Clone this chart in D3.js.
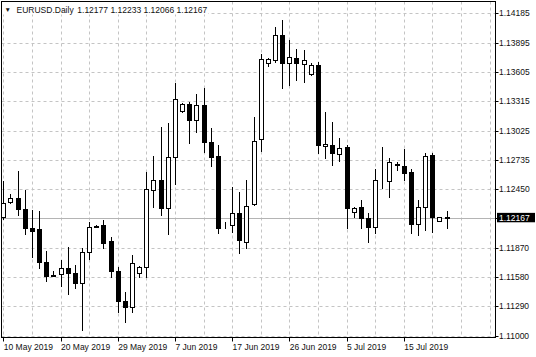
<!DOCTYPE html>
<html>
<head>
<meta charset="utf-8">
<script src="https://d3js.org/d3.v7.min.js"></script>
<style>
  body { margin: 0; background: #fff; }
  svg { display: block; font-family: "Liberation Sans", Arial, sans-serif; }
  .grid line { stroke: #c4c4c4; stroke-width: 1; stroke-dasharray: 3,3; }
</style>
</head>
<body>
<svg width="536" height="357"></svg>
<script>
// EURUSD daily bars, 10 May - 22 Jul 2019 (broker feed with Sunday bars)
const opens = [1.12176, 1.12324, 1.12357, 1.12249, 1.12067, 1.12051, 1.11731, 1.11597, 1.11607, 1.11672,
  1.11617, 1.11518, 1.11824, 1.12085, 1.12094, 1.11936, 1.11642, 1.11343, 1.11281, 1.11622,
  1.11676, 1.12440, 1.12538, 1.12259, 1.12763, 1.13220, 1.13289, 1.13131, 1.13279, 1.12917,
  1.12775, 1.12090, 1.12094, 1.12209, 1.11929, 1.12298, 1.12943, 1.13697, 1.13724, 1.13971,
  1.13691, 1.13741, 1.13684, 1.13586, 1.13675, 1.12874, 1.12884, 1.12795, 1.12867, 1.12225,
  1.12275, 1.12160, 1.12071, 1.12538, 1.12531, 1.12693, 1.12677, 1.12614, 1.12101, 1.12275,
  1.12785, 1.12136, 1.12177];
const highs = [1.12531, 1.12400, 1.12630, 1.12440, 1.12242, 1.12235, 1.11837, 1.11639, 1.11748, 1.11873,
  1.11699, 1.11869, 1.12126, 1.12095, 1.12143, 1.11978, 1.11682, 1.11429, 1.11797, 1.11689,
  1.12620, 1.12775, 1.13065, 1.13099, 1.13494, 1.13299, 1.13312, 1.13385, 1.13450, 1.13049,
  1.12884, 1.12126, 1.12472, 1.12423, 1.12538, 1.13164, 1.13780, 1.13741, 1.14047, 1.14119,
  1.13922, 1.13830, 1.13823, 1.13697, 1.13707, 1.13213, 1.13114, 1.12950, 1.12884, 1.12270,
  1.12341, 1.12209, 1.12644, 1.12867, 1.12753, 1.12719, 1.12845, 1.12644, 1.12341, 1.12808,
  1.12808, 1.12175, 1.12233];
const lows = [1.12150, 1.12308, 1.12193, 1.12005, 1.11775, 1.11666, 1.11543, 1.11585, 1.11494, 1.11409,
  1.11474, 1.11056, 1.11758, 1.12070, 1.11864, 1.11583, 1.11237, 1.11138, 1.11231, 1.11583,
  1.11583, 1.12269, 1.12193, 1.12005, 1.12499, 1.13210, 1.12901, 1.13016, 1.12818, 1.12677,
  1.12018, 1.12061, 1.12028, 1.11814, 1.11864, 1.12291, 1.12825, 1.13665, 1.13707, 1.13444,
  1.13477, 1.13526, 1.13504, 1.13576, 1.12802, 1.12753, 1.12686, 1.12729, 1.12061, 1.12176,
  1.12061, 1.11929, 1.12012, 1.12456, 1.12373, 1.12637, 1.12538, 1.12012, 1.11995, 1.12044,
  1.12028, 1.12130, 1.12066];
const closes = [1.12314, 1.12357, 1.12249, 1.12061, 1.12037, 1.11731, 1.11593, 1.11593, 1.11672, 1.11617,
  1.11518, 1.11830, 1.12071, 1.12075, 1.11919, 1.11642, 1.11346, 1.11287, 1.11721, 1.11676,
  1.12446, 1.12538, 1.12259, 1.12763, 1.13336, 1.13289, 1.13131, 1.13279, 1.12917, 1.12769,
  1.12061, 1.12097, 1.12209, 1.11946, 1.12284, 1.12927, 1.13734, 1.13734, 1.13971, 1.13691,
  1.13751, 1.13691, 1.13724, 1.13675, 1.12884, 1.12891, 1.12802, 1.12851, 1.12259, 1.12265,
  1.12160, 1.12077, 1.12538, 1.12538, 1.12713, 1.12690, 1.12605, 1.12101, 1.12269, 1.12775,
  1.12176, 1.12170, 1.12167];

const priceTicks = [1.11000, 1.11290, 1.11580, 1.11870, 1.12160, 1.12450, 1.12735, 1.13025, 1.13315, 1.13605, 1.13895, 1.14185];
const dateTickBars = [0, 8, 16, 24, 32, 40, 48, 56];
const dateTickLabels = ["10 May 2019", "20 May 2019", "29 May 2019", "7 Jun 2019", "17 Jun 2019", "26 Jun 2019", "5 Jul 2019", "15 Jul 2019"];
const symbolName = "EURUSD.Daily";
const bidPrice = 1.12167;

const svg = d3.select("svg");
const plotL = 1.5, plotR = 495.5, plotT = 1.5, plotB = 337.5;

// bar index -> x (room for 68 bar slots, chart shifted a few bars from the edge)
const x = d3.scaleLinear().domain([0, 68]).range([3.3, 489.5]);
const y = d3.scaleLinear().domain([1.11, 1.14185]).range([335.7, 13.3]);
const px = v => Math.round(v) + 0.5;

svg.append("defs").append("clipPath").attr("id", "plot")
  .append("rect").attr("x", plotL + 0.5).attr("y", plotT + 0.5)
  .attr("width", plotR - plotL - 1).attr("height", plotB - plotT - 1);

// grid
const grid = svg.append("g").attr("class", "grid").attr("clip-path", "url(#plot)");
grid.selectAll(".h").data(priceTicks).enter().append("line")
  .attr("x1", plotL).attr("x2", plotR)
  .attr("y1", d => px(y(d))).attr("y2", d => px(y(d)));
grid.selectAll(".v").data(d3.range(0, 69, 4)).enter().append("line")
  .attr("y1", plotT).attr("y2", plotB)
  .attr("x1", d => px(x(d))).attr("x2", d => px(x(d)));

// bid line
svg.append("line")
  .attr("x1", plotL).attr("x2", plotR)
  .attr("y1", px(y(bidPrice))).attr("y2", px(y(bidPrice)))
  .attr("stroke", "#b4b4b4");

// candles
const bars = opens.map((o, i) => ({ i: i, o: o, h: highs[i], l: lows[i], c: closes[i] }));
const cg = svg.append("g").attr("clip-path", "url(#plot)");
const candle = cg.selectAll("g").data(bars).enter().append("g");
candle.append("line")
  .attr("x1", d => px(x(d.i))).attr("x2", d => px(x(d.i)))
  .attr("y1", d => Math.round(y(d.h))).attr("y2", d => Math.round(y(d.l)) + 1)
  .attr("stroke", "#000");
candle.append("rect")
  .attr("x", d => px(x(d.i)) - 2)
  .attr("width", 4)
  .attr("y", d => px(y(Math.max(d.o, d.c))))
  .attr("height", d => Math.max(0, px(y(Math.min(d.o, d.c))) - px(y(Math.max(d.o, d.c)))))
  .attr("fill", d => d.c >= d.o ? "#fff" : "#000")
  .attr("stroke", "#000");

// frame
svg.append("rect")
  .attr("x", plotL).attr("y", plotT)
  .attr("width", plotR - plotL).attr("height", plotB - plotT)
  .attr("fill", "none").attr("stroke", "#000");

// price axis
const pa = svg.append("g").style("font-size", "8.5px").attr("fill", "#111");
pa.selectAll("line").data(priceTicks).enter().append("line")
  .attr("x1", plotR).attr("x2", plotR + 3)
  .attr("y1", d => px(y(d))).attr("y2", d => px(y(d)))
  .attr("stroke", "#000");
pa.selectAll("text").data(priceTicks.filter(d => Math.abs(y(d) - y(bidPrice)) > 6)).enter().append("text")
  .attr("x", 499).attr("y", d => y(d) + 3)
  .text(d => d.toFixed(5));

const yb = y(bidPrice);
svg.append("rect").attr("x", 497).attr("y", yb - 4.7).attr("width", 38).attr("height", 9.4).attr("fill", "#000");
svg.append("text").attr("x", 499).attr("y", yb + 3).attr("fill", "#fff")
  .style("font-size", "8.5px").text(bidPrice.toFixed(5));

// time axis
const ta = svg.append("g").style("font-size", "8.5px").attr("fill", "#111");
ta.selectAll("line").data(dateTickBars).enter().append("line")
  .attr("x1", d => px(x(d))).attr("x2", d => px(x(d)))
  .attr("y1", plotB).attr("y2", plotB + 4)
  .attr("stroke", "#000");
ta.selectAll("text").data(dateTickBars).enter().append("text")
  .attr("x", d => x(d) + 0.5).attr("y", 350)
  .text((d, k) => dateTickLabels[k]);

// title
const n = bars.length - 1;
svg.append("rect").attr("x", 2).attr("y", 2).attr("width", 206).attr("height", 12.5).attr("fill", "#fff");
const tg = svg.append("g").style("font-size", "8.5px").attr("fill", "#111");
tg.append("text").attr("x", 4.5).attr("y", 12).style("font-size", "6.5px").text("\u25BC");
tg.append("text").attr("x", 16.5).attr("y", 13).text(symbolName);
tg.append("text").attr("x", 77.3).attr("y", 13)
  .text([opens[n], highs[n], lows[n], closes[n]].map(v => v.toFixed(5)).join(" "));
</script>
</body>
</html>
